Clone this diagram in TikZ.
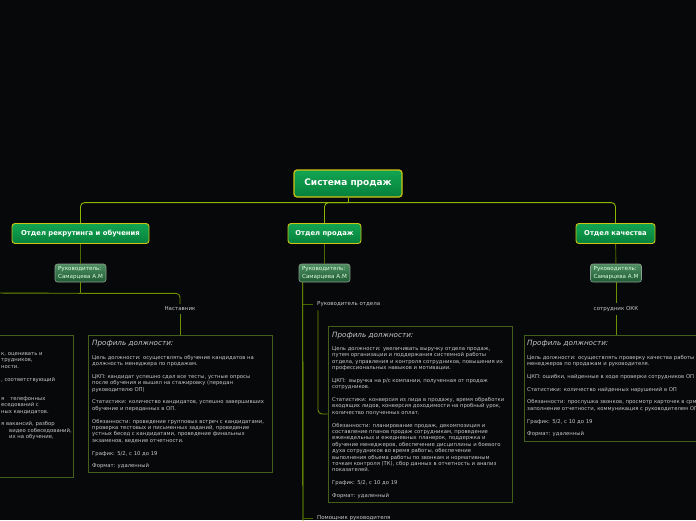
\documentclass[tikz,border=0pt]{standalone}
\usepackage{fontspec}
\setmainfont{DejaVu Sans}
\usetikzlibrary{positioning,calc}
\definecolor{bgdark}{HTML}{06080A}
\definecolor{greenhi}{HTML}{12A552}
\definecolor{greenlo}{HTML}{06803C}
\definecolor{deptedge}{HTML}{CFC414}
\definecolor{mgrhi}{HTML}{4E8F60}
\definecolor{mgrlo}{HTML}{1F5B35}
\definecolor{mgredge}{HTML}{8FA08F}
\definecolor{trunkcol}{HTML}{8DB600}
\definecolor{branchcol}{HTML}{6F9000}
\definecolor{twigcol}{HTML}{4D6800}
\definecolor{spinecol}{HTML}{8FBF00}
\definecolor{stubcol}{HTML}{4A6400}
\definecolor{boxedge}{HTML}{43601A}
\definecolor{txtgray}{HTML}{C8C8C8}

\begin{document}
\begin{tikzpicture}[x=1pt, y=-1pt,
    rootbox/.style={draw=deptedge, line width=1.2pt, rounded corners=3pt, top color=greenhi, bottom color=greenlo, text=white, font=\fontsize{9}{10}\selectfont\bfseries, minimum width=108, minimum height=27},
    deptbox/.style={draw=deptedge, line width=0.9pt, rounded corners=3pt, top color=greenhi, bottom color=greenlo, text=white, font=\fontsize{6.8}{8}\selectfont\bfseries, minimum height=20},
    mgrbox/.style={draw=mgredge, line width=0.6pt, rounded corners=2.5pt, top color=mgrhi, bottom color=mgrlo, text=white!88!green, font=\fontsize{5.6}{7.2}\selectfont, align=left, minimum width=51, minimum height=18, inner sep=2pt},
    lbl/.style={text=txtgray, font=\fontsize{5.5}{6.5}\selectfont, inner xsep=4pt, inner ysep=3pt},
    profbox/.style={draw=boxedge, line width=0.8pt},
    hdr/.style={anchor=base west, inner sep=0pt, text=txtgray, font=\fontsize{7.2}{8}\selectfont\itshape},
    body/.style={anchor=north west, inner sep=0pt, align=left, text=txtgray, font=\fontsize{5.3}{6.4}\selectfont, execute at begin node={\rule{0pt}{4.2pt}}},
    trunk/.style={draw=trunkcol, line width=0.9pt, rounded corners=4pt},
    twig/.style={draw=twigcol, line width=0.9pt},
    branch/.style={draw=branchcol, line width=0.9pt, rounded corners=4pt},
    spine/.style={draw=spinecol, line width=0.9pt},
    stub/.style={draw=stubcol, line width=0.9pt},
]
\useasboundingbox (0,0) rectangle (696,520);
\fill[bgdark] (0,0) rectangle (696,520);
\clip (0,0) rectangle (696,520);

\node[rootbox] (root) at (348,183.5) {Система продаж};
\node[deptbox, minimum width=137] (recdept) at (80.5,233.5) {Отдел рекрутинга и обучения};
\node[deptbox, minimum width=73] (salesdept) at (324.5,233.5) {Отдел продаж};
\node[deptbox, minimum width=79] (qualdept) at (615.5,233.5) {Отдел качества};

\node[mgrbox] (recmgr) at (80.5,273) {Руководитель:\\Самарцева А.М};
\node[mgrbox] (salesmgr) at (324.5,273) {Руководитель:\\Самарцева А.М};
\node[mgrbox] (qualmgr) at (616,273) {Руководитель:\\Самарцева А.М};

\node[lbl] (mentorlbl) at (180,309) {Наставник};
\node[lbl, anchor=west] (headlbl) at (313,304.5) {Руководитель отдела};
\node[lbl, anchor=west] (asstlbl) at (313,518) {Помощник руководителя};
\node[lbl] (okklbl) at (616,309) {сотрудник ОКК};

\node[profbox, minimum width=203, minimum height=142] (recrbox) at (-28.5,406) {};
\node[profbox, minimum width=184, minimum height=137] (mentorbox) at (180,403.5) {};
\node[profbox, minimum width=184, minimum height=176] (salesbox) at (420,414) {};
\node[profbox, minimum width=236, minimum height=106] (qualbox) at (642,388) {};

\node[body] (recrtxt) at (1,352.3) {к, оценивать и\\
трудников,\\
ности.\\[6.4pt]
, соответствующий\\
\mbox{}\\[6.4pt]
я\hspace{6pt}телефонных\\
еседований с\\
ных кандидатов.\\[6.4pt]
я вакансий, разбор\\
\hspace{8pt}видео собеседований,\\
\hspace{8pt}их на обучение,};

\node[hdr] (mentorhdr) at (92,345.5) {Профиль должности:};
\node[body] (mentortxt) at (92,354.8) {Цель должности: осуществлять обучение кандидатов на\\
должность менеджера по продажам.\\[6.4pt]
ЦКП: кандидат успешно сдал все тесты, устные опросы\\
после обучения и вышел на стажировку (передан\\
руководителю ОП)\\[6.4pt]
Статистики: количество кандидатов, успешно завершивших\\
обучение и переданных в ОП.\\[6.4pt]
Обязанности: проведение групповых встреч с кандидатами,\\
проверка тестовых и письменных заданий, проведение\\
устных бесед с кандидатами, проведение финальных\\
экзаменов, ведение отчетности.\\[6.4pt]
График: 5/2, с 10 до 19\\[6.4pt]
Формат: удаленный};

\node[hdr] (saleshdr) at (332,337.5) {Профиль должности:};
\node[body] (salestxt) at (332,346.3) {Цель должности: увеличивать выручку отдела продаж,\\
путем организации и поддержания системной работы\\
отдела, управления и контроля сотрудников, повышения их\\
профессиональных навыков и мотивации.\\[6.4pt]
ЦКП:\ \ выручка на р/с компании, полученная от продаж\\
сотрудников.\\[6.4pt]
Статистики: конверсия из лида в продажу, время обработки\\
входящих лидов, конверсия доходимости на пробный урок,\\
количество полученных оплат.\\[6.4pt]
Обязанности: планирование продаж, декомпозиция и\\
составление планов продаж сотрудникам, проведение\\
еженедельных и ежедневных планерок, поддержка и\\
обучение менеджеров, обеспечение дисциплины и боевого\\
духа сотрудников во время работы, обеспечение\\
выполнения объема работы по звонкам и нормативным\\
точкам контроля (ТК), сбор данных в отчетность и анализ\\
показателей.\\[6.4pt]
График: 5/2, с 10 до 19\\[6.4pt]
Формат: удаленный};

\node[hdr] (qualhdr) at (527,345.5) {Профиль должности:};
\node[body] (qualtxt) at (527,354.8) {Цель должности: осуществлять проверку качества работы\\
менеджеров по продажам и руководителя.\\[6.4pt]
ЦКП: ошибки, найденные в ходе проверки сотрудников ОП\\[6.4pt]
Статистики: количество найденных нарушений в ОП\\[6.4pt]
Обязанности: прослушка звонков, просмотр карточек в срм,\\
заполнение отчетности, коммуникация с руководителем ОП\\[6.4pt]
График: 5/2, с 10 до 19\\[6.4pt]
Формат: удаленный};

\draw[trunk] (root.south) -- ++(0,5) coordinate (fork);
\draw[trunk] (fork) -| (recdept.north);
\draw[trunk] (fork) -| (salesdept.north);
\draw[trunk] (fork) -| (qualdept.north);

\draw[twig] (recdept) -- (recmgr);
\draw[twig] (salesdept) -- (salesmgr);
\draw[twig] (qualdept) -- (qualmgr);

\coordinate (recoff) at (-10,293);
\draw[branch] (recmgr.south) -- ++(0,11) coordinate (recfork);
\draw[branch] (recfork) -| (mentorlbl.north);
\draw[branch] (recfork) -- (recoff);
\draw[branch] (mentorlbl.south) -- (mentorbox.north);

\coordinate (spinetop) at ([xshift=4pt]salesmgr.south west);
\coordinate (spinebot) at (303,530);
\draw[spine] (spinetop) -- (spinebot);
\draw[stub] (spinetop |- headlbl.west) -- (headlbl.west);
\draw[stub] (spinetop |- asstlbl.west) -- (asstlbl.west);
\draw[branch] ([xshift=5pt]headlbl.south west) |- (salesbox.west);

\draw[branch] (qualmgr) -- (okklbl);
\draw[branch] (okklbl.south) -- (okklbl.south |- qualbox.north);
\end{tikzpicture}
\end{document}
